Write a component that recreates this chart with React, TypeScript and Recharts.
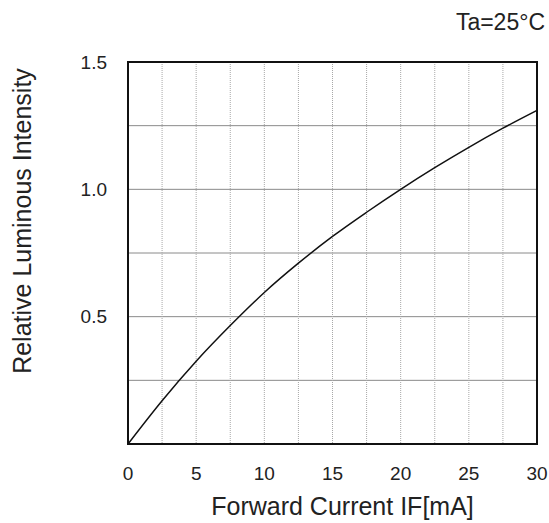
import {
  CartesianGrid,
  Label,
  Line,
  LineChart,
  ReferenceArea,
  XAxis,
  YAxis,
} from 'recharts';

// forward current (mA) vs relative luminous intensity
const currentMA = [0, 2.5, 5, 7.5, 10, 12.5, 15, 17.5, 20, 22.5, 25, 27.5, 30];
const intensity = [0, 0.17, 0.325, 0.465, 0.595, 0.71, 0.815, 0.91, 1.0, 1.085, 1.165, 1.24, 1.31];

const xTicks = [0, 2.5, 5, 7.5, 10, 12.5, 15, 17.5, 20, 22.5, 25, 27.5, 30];
const yTicks = [0, 0.25, 0.5, 0.75, 1.0, 1.25, 1.5];

const data = currentMA.map((x, i) => ({ x, y: intensity[i] }));

const FONT = '"Liberation Sans", Arial, Helvetica, sans-serif';
const INK = '#222';

function YTitle() {
  return (
    <g>
      <text
        x={22}
        y={221}
        transform="rotate(-90 22 221)"
        textAnchor="middle"
        dominantBaseline="central"
        fontSize={25}
        fontFamily={FONT}
        fill={INK}
      >
        Relative Luminous Intensity
      </text>
      <text x={545} y={30} textAnchor="end" fontSize={23} fontFamily={FONT} fill={INK}>
        Ta=25°C
      </text>
    </g>
  );
}

export default function App() {
  return (
    <div style={{ position: 'absolute', left: 0, top: 0, background: '#fff' }}>
      <LineChart
        width={549}
        height={523}
        data={data}
        margin={{ top: 62, right: 12, left: 0, bottom: 0 }}
      >
        <CartesianGrid horizontal vertical={false} stroke="#8a8a8a" strokeWidth={1} />
        <CartesianGrid
          horizontal={false}
          vertical
          stroke="#a8a8a8"
          strokeWidth={1}
          strokeDasharray="1 1"
        />
        <XAxis
          dataKey="x"
          type="number"
          domain={[0, 30]}
          ticks={xTicks}
          interval={0}
          height={79}
          tickSize={0}
          tickMargin={23}
          axisLine={false}
          tick={{ fontSize: 19, fill: INK, fontFamily: FONT }}
          tickFormatter={(v: number) => (v % 5 === 0 ? String(v) : '')}
        >
          <Label
            value="Forward Current IF[mA]"
            position="insideBottom"
            offset={8}
            dx={10}
            fontSize={25}
            fill={INK}
            fontFamily={FONT}
          />
        </XAxis>
        <YAxis
          type="number"
          domain={[0, 1.5]}
          ticks={yTicks}
          interval={0}
          width={128}
          tickSize={0}
          tickMargin={21}
          axisLine={false}
          tick={{ fontSize: 19, fill: INK, fontFamily: FONT }}
          tickFormatter={(v: number) => (v > 0 && v % 0.5 === 0 ? v.toFixed(1) : '')}
        >
          <Label content={() => <YTitle />} />
        </YAxis>
        <ReferenceArea
          x1={0}
          x2={30}
          y1={0}
          y2={1.5}
          fill="none"
          stroke="#111"
          strokeWidth={2}
          ifOverflow="visible"
        />
        <Line
          type="monotone"
          dataKey="y"
          stroke="#111"
          strokeWidth={1.5}
          dot={false}
          isAnimationActive={false}
        />
      </LineChart>
    </div>
  );
}
